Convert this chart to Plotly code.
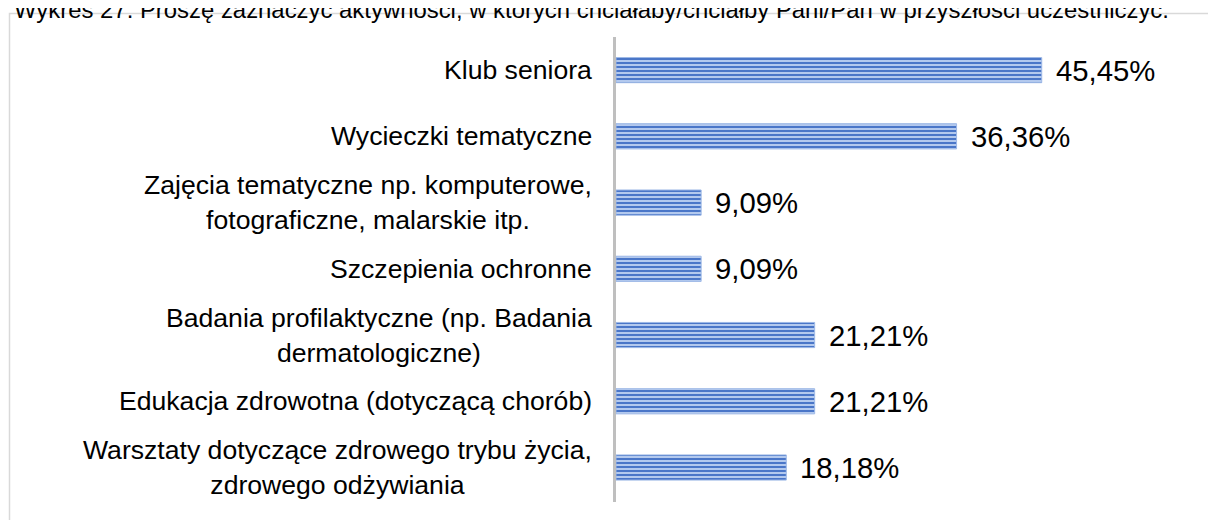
import plotly.graph_objects as go

title_text = "Wykres 27. Proszę zaznaczyć aktywności, w których chciałaby/chciałby Pani/Pan w przyszłości uczestniczyć."
categories = [
    "Klub seniora",
    "Wycieczki tematyczne",
    "Zajęcia tematyczne np. komputerowe,<br>fotograficzne, malarskie itp.",
    "Szczepienia ochronne",
    "Badania profilaktyczne (np. Badania<br>dermatologiczne)",
    "Edukacja zdrowotna (dotyczącą chorób)",
    "Warsztaty dotyczące zdrowego trybu życia,<br>zdrowego odżywiania",
]
values = [45.45, 36.36, 9.09, 9.09, 21.21, 21.21, 18.18]
value_labels = ["45,45%", "36,36%", "9,09%", "9,09%", "21,21%", "21,21%", "18,18%"]

W, H = 1216, 520
ML, MR, MT, MB = 608, 46, 29, 26
XMAX = 60.0
pw = W - ML - MR
ph = H - MT - MB

def px_to_paper_x(px):
    return (px - ML) / pw

def px_to_paper_y(py):
    return 1 - (py - MT) / ph

fig = go.Figure()
fig.add_trace(go.Bar(
    y=categories,
    x=values,
    orientation="h",
    width=0.38,
    marker=dict(
        color="#6f95d8",
        line=dict(color="#9db8e6", width=1),
        pattern=dict(shape="-", size=4, solidity=0.5,
                     fgcolor="#4a76c8", bgcolor="#b3c9ee", fillmode="replace"),
    ),
    hoverinfo="skip",
))

annotations = []
for c, v, lab in zip(categories, values, value_labels):
    annotations.append(dict(
        x=0, y=c, xref="x", yref="y", text=c, showarrow=False,
        xanchor="right", yanchor="middle", align="center", xshift=-22,
        font=dict(family="Liberation Sans, Arial", size=26.6, color="#000000"),
    ))
    annotations.append(dict(
        x=v, y=c, xref="x", yref="y", text=lab, showarrow=False,
        xanchor="left", yanchor="middle", xshift=12,
        font=dict(family="Liberation Sans, Arial", size=29.3, color="#000000"),
    ))

annotations.append(dict(
    x=px_to_paper_x(3.5), y=px_to_paper_y(17), xref="paper", yref="paper",
    text=title_text, showarrow=False, xanchor="left", yanchor="bottom",
    font=dict(family="Liberation Sans, Arial", size=23.9, color="#000000"),
))

# chart-area border (top and left edges visible)
x0p = px_to_paper_x(1.5)
x1p = px_to_paper_x(1216)
y0p = px_to_paper_y(5.5)
y1p = px_to_paper_y(530)
shapes = [dict(
    type="path", xref="paper", yref="paper",
    path=f"M {x0p} {y1p} L {x0p} {y0p} L {x1p} {y0p}",
    line=dict(color="#d9d9d9", width=1.5),
)]

fig.update_layout(
    width=W, height=H,
    margin=dict(l=ML, r=MR, t=MT, b=MB),
    paper_bgcolor="white", plot_bgcolor="white",
    showlegend=False,
    annotations=annotations,
    shapes=shapes,
    xaxis=dict(range=[0, XMAX], visible=False, fixedrange=True),
    yaxis=dict(autorange="reversed", showticklabels=False, ticks="",
               showline=True, linecolor="#bfbfbf", linewidth=3,
               showgrid=False, zeroline=False, fixedrange=True),
)

fig.write_html("out.html")
